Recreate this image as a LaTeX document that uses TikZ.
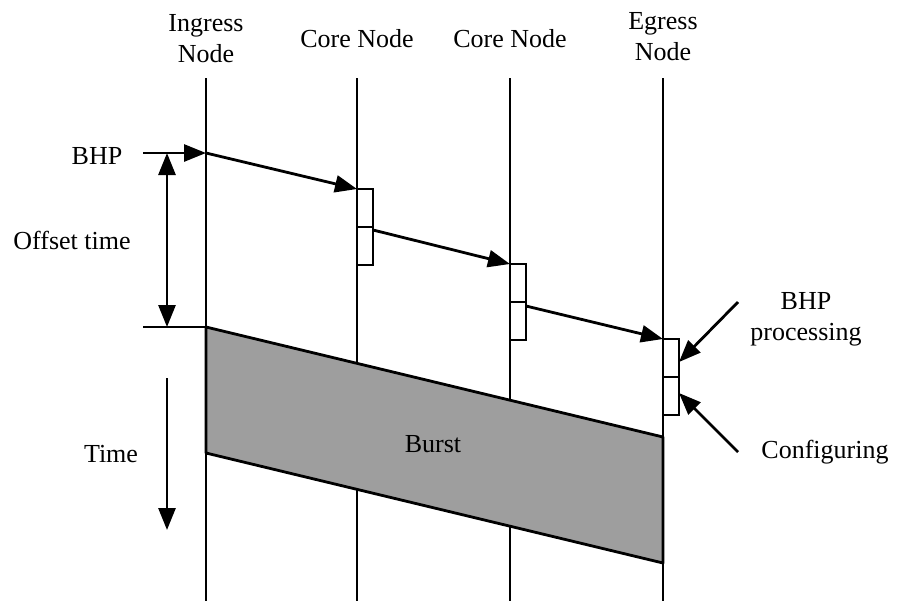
\documentclass[tikz,border=0pt]{standalone}
\usepackage{fontspec}
\setmainfont{Liberation Serif}
\usetikzlibrary{arrows.meta}
\begin{document}
\begin{tikzpicture}[x=0.5pt,y=-0.5pt,
  lbl/.style={font=\fontsize{13pt}{15.5pt}\selectfont, inner sep=0pt, align=center},
  wire/.style={line width=1pt},
  tip/.style={-{Triangle[length=11pt,width=8.5pt]}},
  sig/.style={line width=1.4pt, tip},
  halfbox/.style={draw, line width=1pt, fill=white, minimum width=8pt, minimum height=19pt,
                  inner sep=0pt, outer sep=0pt, anchor=north west},
  burst/.style={fill=black!38, draw, line width=1.4pt, line join=round}]
\useasboundingbox (0,0) rectangle (898,601);

% node time lines
\coordinate (ingT) at (206,78);  \coordinate (ingB) at (206,601);
\coordinate (c1T) at (357,78);   \coordinate (c1B) at (357,601);
\coordinate (c2T) at (510,78);   \coordinate (c2B) at (510,601);
\coordinate (egT) at (663,78);   \coordinate (egB) at (663,601);
\foreach \t/\b in {ingT/ingB, c1T/c1B, c2T/c2B, egT/egB}
  \draw[wire] (\t) -- (\b);

% column headings
\node[lbl] (ing) at (206,39) {Ingress\\Node};
\node[lbl] (core1) at (357,39) {Core Node};
\node[lbl] (core2) at (510,39) {Core Node};
\node[lbl] (egr) at (663,37) {Egress\\Node};

% the data burst travelling behind the header
\draw[burst] (206,327) -- (663,437) -- (663,563) -- (206,453) -- cycle;
\node[lbl] (burstlbl) at (433,444) {Burst};

% processing / configuring slots at each downstream node
\node[halfbox] (p1) at (357,189) {};
\node[halfbox] (k1) at (357,227) {};
\node[halfbox] (p2) at (510,264) {};
\node[halfbox] (k2) at (510,302) {};
\node[halfbox] (p3) at (663,339) {};
\node[halfbox] (k3) at (663,377) {};

% header hops
\coordinate (bhpin) at (143,153);
\coordinate (ing0) at (206,153);
\draw[sig] (bhpin) -- (ing0);
\draw[sig] (ing0) -- (p1.north west);
\draw[sig] ([yshift=-1.5pt]k1.north east) -- (p2.north west);
\draw[sig] ([yshift=-2pt]k2.north east) -- (p3.north west);

% offset between header and burst
\coordinate (offT) at (167,153);
\coordinate (offB) at (167,327);
\coordinate (burstL) at (143,327);
\coordinate (burstR) at (206,327);
\draw[wire,line width=1.2pt] (burstL) -- (burstR);
\draw[line width=1.4pt, {Triangle[length=11pt,width=8.5pt]}-{Triangle[length=11pt,width=8.5pt]}] (offT) -- (offB);

% time axis
\coordinate (timeT) at (167,378);
\coordinate (timeB) at (167,530);
\draw[sig] (timeT) -- (timeB);

% left labels
\node[lbl] (bhp) at (97,156) {BHP};
\node[lbl] (offset) at (72,240) {Offset time};
\node[lbl] (time) at (111,454) {Time};

% right labels and pointers
\node[lbl] (proc) at (806,319) {BHP\\processing};
\node[lbl] (conf) at (825,452) {Configuring};
\coordinate (procTail) at (738,302);
\coordinate (confTail) at (738,452);
\draw[sig] (procTail) -- ([yshift=-11.5pt]p3.north east);
\draw[sig] (confTail) -- ([yshift=-8pt]k3.north east);
\end{tikzpicture}
\end{document}
